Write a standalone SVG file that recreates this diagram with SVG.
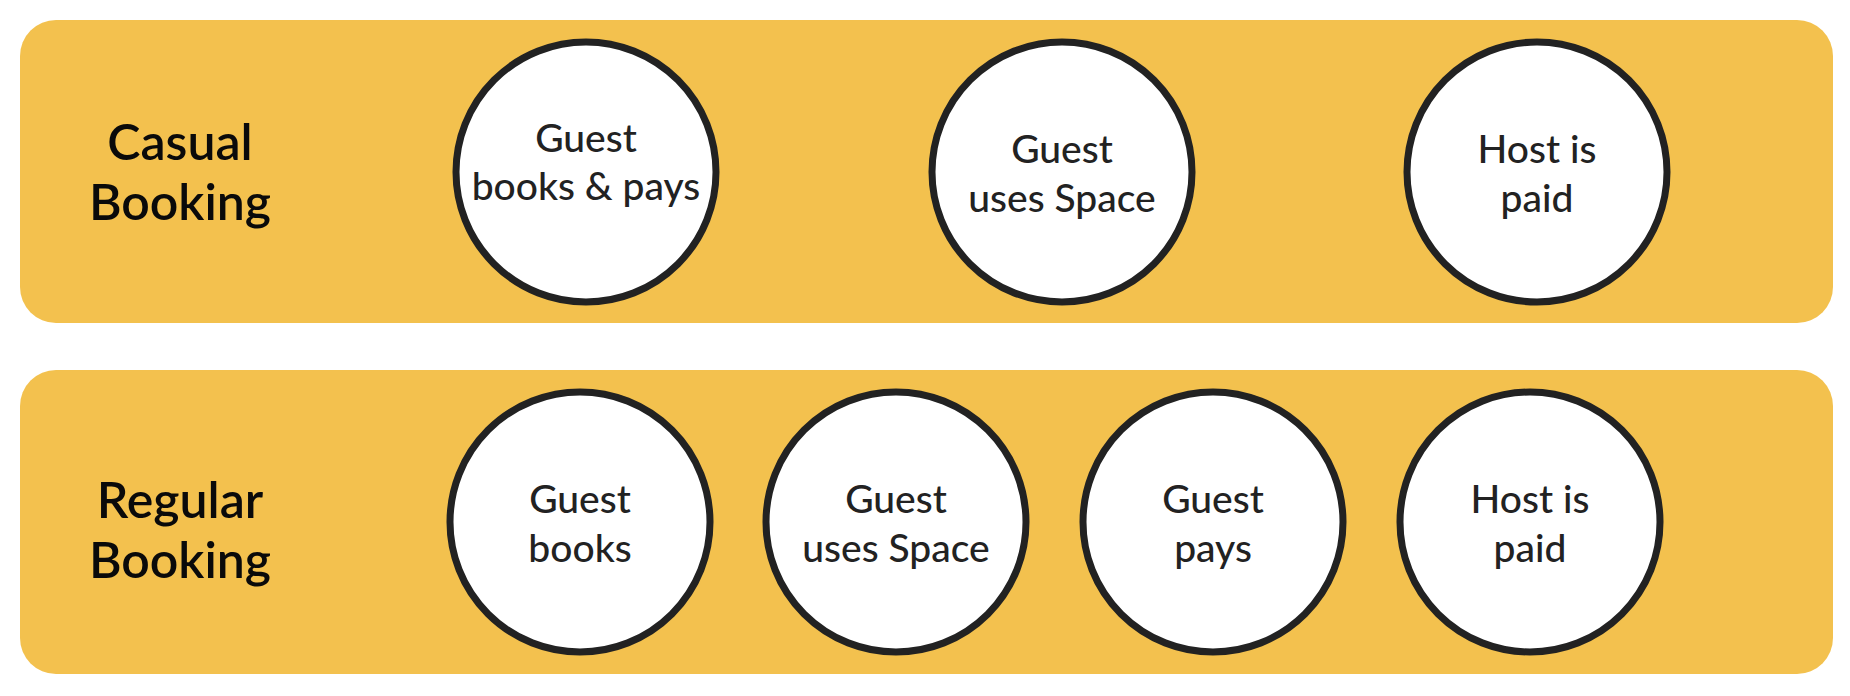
<svg xmlns="http://www.w3.org/2000/svg" width="1850" height="696" viewBox="0 0 1850 696">
  <style>
    .lane { fill: #F3C14E; }
    .node circle { fill: #FFFFFF; stroke: #222222; stroke-width: 7; }
    .node text { font-family: Lato, "Open Sans", "Liberation Sans", sans-serif; font-size: 39px; font-weight: 500; fill: #222222; text-anchor: middle; }
    .label text { font-family: Lato, "Open Sans", "Liberation Sans", sans-serif; font-size: 50px; font-weight: 600; fill: #0A0A0A; text-anchor: middle; }
  </style>
  <rect width="1850" height="696" fill="#FFFFFF"/>
  <g id="lane-casual">
    <rect class="lane" x="20" y="20" width="1813" height="303" rx="36" ry="36"/>
    <g class="label" id="label-casual">
      <text x="180" y="160">Casual</text>
      <text x="180" y="220">Booking</text>
    </g>
  </g>
  <g id="lane-regular">
    <rect class="lane" x="20" y="370" width="1813" height="304" rx="36" ry="36"/>
    <g class="label" id="label-regular">
      <text x="180" y="518">Regular</text>
      <text x="180" y="578">Booking</text>
    </g>
  </g>
  <g id="connectors"></g>
  <g id="casual-guest-books-pays" class="node">
    <circle cx="586" cy="172" r="130"/>
    <text x="586" y="152">Guest</text>
    <text x="586" y="200">books &amp; pays</text>
  </g>
  <g id="casual-guest-uses-space" class="node">
    <circle cx="1062" cy="172" r="130"/>
    <text x="1062" y="163">Guest</text>
    <text x="1062" y="212">uses Space</text>
  </g>
  <g id="casual-host-is-paid" class="node">
    <circle cx="1537" cy="172" r="130"/>
    <text x="1537" y="163">Host is</text>
    <text x="1537" y="212">paid</text>
  </g>
  <g id="regular-guest-books" class="node">
    <circle cx="580" cy="522" r="130"/>
    <text x="580" y="513">Guest</text>
    <text x="580" y="562">books</text>
  </g>
  <g id="regular-guest-uses-space" class="node">
    <circle cx="896" cy="522" r="130"/>
    <text x="896" y="513">Guest</text>
    <text x="896" y="562">uses Space</text>
  </g>
  <g id="regular-guest-pays" class="node">
    <circle cx="1213" cy="522" r="130"/>
    <text x="1213" y="513">Guest</text>
    <text x="1213" y="562">pays</text>
  </g>
  <g id="regular-host-is-paid" class="node">
    <circle cx="1530" cy="522" r="130"/>
    <text x="1530" y="513">Host is</text>
    <text x="1530" y="562">paid</text>
  </g>
</svg>
